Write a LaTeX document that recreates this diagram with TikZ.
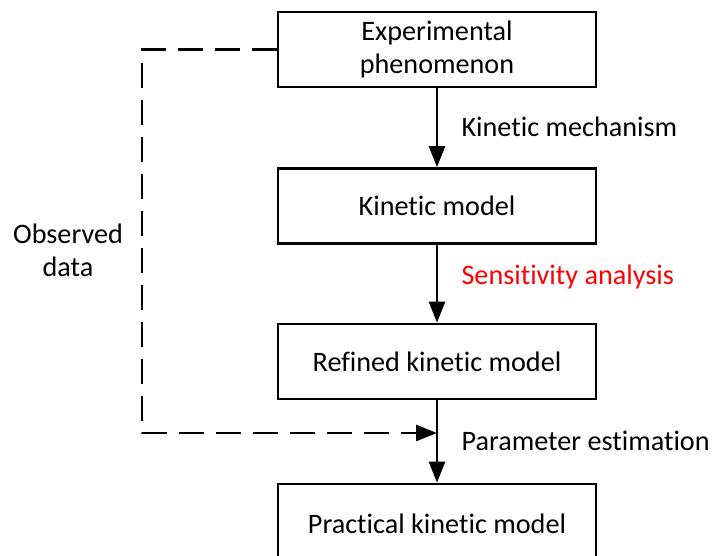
\documentclass[tikz,border=0pt]{standalone}
\usepackage{fontspec}
\setmainfont{Carlito}[Ligatures=NoCommon]
\usetikzlibrary{arrows.meta}
\tikzset{
  stagebox/.style={draw,line width=2.8pt,minimum width=318pt,minimum height=75pt,align=center,font=\fontsize{28.2}{33}\selectfont},
  steplabel/.style={anchor=west,font=\fontsize{28.2}{33}\selectfont},
  flow/.style={line width=2.8pt,-{Triangle[length=21pt,width=16pt]}},
  feedback/.style={line width=2.8pt,dash pattern=on 25pt off 12pt,-{Triangle[length=21pt,width=16pt]}}
}
\begin{document}
\begin{tikzpicture}[x=1pt,y=-1pt]
				\useasboundingbox (0,0) rectangle (712,555);
				\clip (0,0) rectangle (712,555);
				% the stages
				\node[stagebox] (exp) at (437,49.5) {Experimental\\phenomenon};
				\node[stagebox] (kin) at (437,206) {Kinetic model};
				\node[stagebox] (ref) at (437,361.5) {Refined kinetic model};
				\node[stagebox,minimum height=80pt] (prac) at (437,524) {Practical kinetic model};
				% the steps between them
				\draw[flow] (exp) -- (kin);
				\draw[flow] (kin) -- (ref);
				\draw[flow] (ref) -- (prac);
				\node[steplabel] (mech) at (458,127) {Kinetic mechanism};
				\node[steplabel,text=red] (sens) at (458,277) {Sensitivity analysis};
				\node[steplabel] (est) at (458,441) {Parameter estimation};
				% the observed data fed back
				\coordinate (join) at (437,433);
				\draw[feedback] (exp.west) -- (142,49.5) -- (142,433) -- (join);
				\node[align=center,font=\fontsize{28.2}{33}\selectfont] (obs) at (68,250) {Observed\\data};
\end{tikzpicture}
\end{document}
